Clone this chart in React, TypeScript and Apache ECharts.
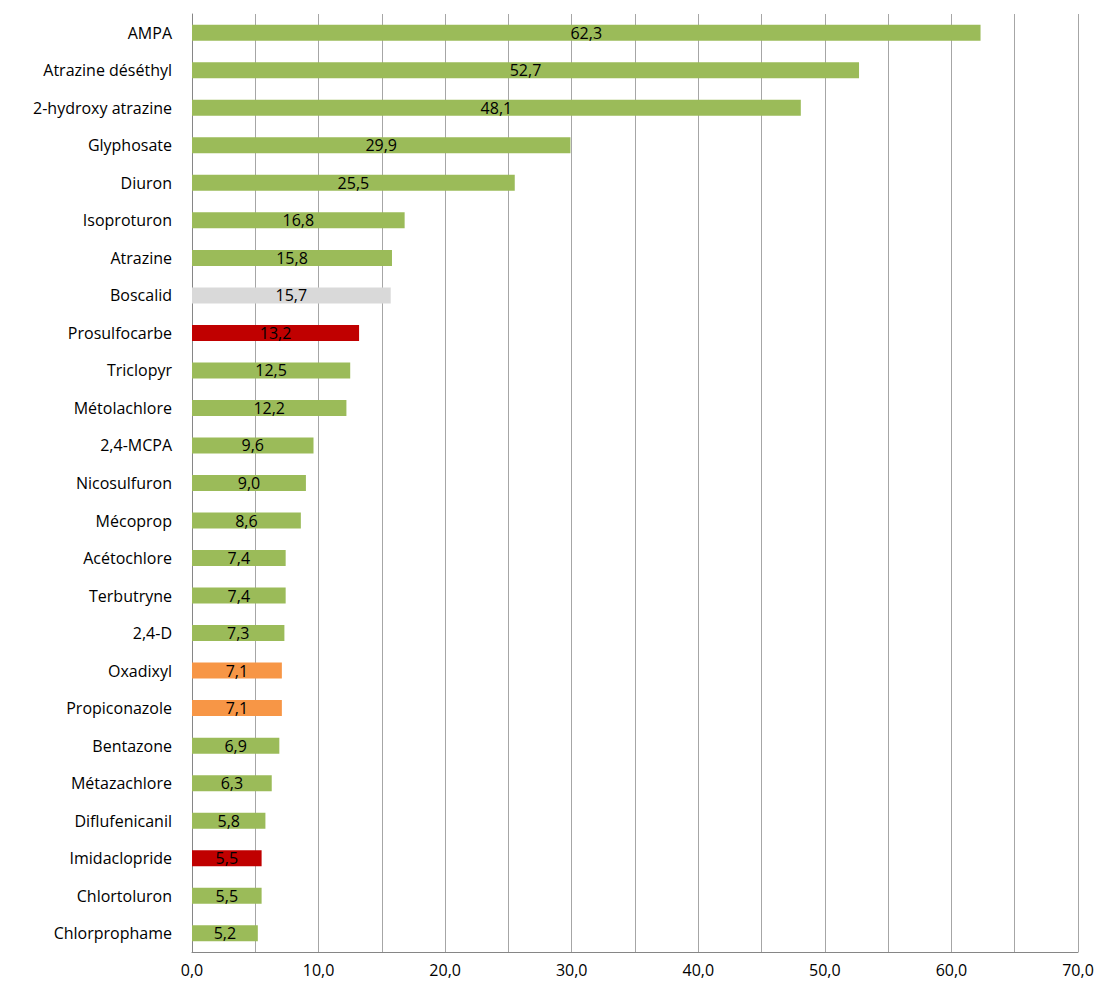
import React, { useEffect, useRef } from 'react';
import * as echarts from 'echarts';

const categories = [
  'AMPA', 'Atrazine déséthyl', '2-hydroxy atrazine', 'Glyphosate', 'Diuron', 'Isoproturon',
  'Atrazine', 'Boscalid', 'Prosulfocarbe', 'Triclopyr', 'Métolachlore', '2,4-MCPA',
  'Nicosulfuron', 'Mécoprop', 'Acétochlore', 'Terbutryne', '2,4-D', 'Oxadixyl',
  'Propiconazole', 'Bentazone', 'Métazachlore', 'Diflufenicanil', 'Imidaclopride',
  'Chlortoluron', 'Chlorprophame',
];
const values = [
  62.3, 52.7, 48.1, 29.9, 25.5, 16.8, 15.8, 15.7, 13.2, 12.5, 12.2, 9.6, 9.0, 8.6, 7.4,
  7.4, 7.3, 7.1, 7.1, 6.9, 6.3, 5.8, 5.5, 5.5, 5.2,
];
// g = green, s = grey, r = red, o = orange
const colorKeys = [
  'g', 'g', 'g', 'g', 'g', 'g', 'g', 's', 'r', 'g', 'g', 'g', 'g', 'g', 'g', 'g', 'g',
  'o', 'o', 'g', 'g', 'g', 'r', 'g', 'g',
];
const palette: Record<string, string> = {
  g: '#9BBB59', s: '#D9D9D9', r: '#C00000', o: '#F79646',
};

const fmt = (v: number) => v.toFixed(1).replace('.', ',');

const App: React.FC = () => {
  const chartRef = useRef<HTMLDivElement>(null);

  useEffect(() => {
    const chart = echarts.init(chartRef.current!, undefined, { renderer: 'svg' });
    const option = {
      animation: false,
      textStyle: { fontFamily: 'Open Sans' },
      grid: { left: 192, right: 22, top: 14, bottom: 37, containLabel: false },
      xAxis: {
        type: 'value',
        min: 0,
        max: 70,
        interval: 5,
        axisLine: { show: true, lineStyle: { color: '#868686' } },
        axisTick: { show: false },
        axisLabel: {
          fontSize: 16,
          color: '#000',
          margin: 10,
          formatter: (v: number) => (v % 10 === 0 ? fmt(v) : ''),
        },
        splitLine: { show: true, lineStyle: { color: '#A6A6A6', width: 1 } },
      },
      yAxis: {
        type: 'category',
        data: categories,
        inverse: true,
        axisLine: { show: true, lineStyle: { color: '#868686' } },
        axisTick: { show: false },
        axisLabel: { fontSize: 16, color: '#000', margin: 20 },
      },
      series: [
        {
          type: 'bar',
          barWidth: 16,
          data: values.map((v, i) => ({
            value: v,
            itemStyle: { color: palette[colorKeys[i]] },
          })),
          label: {
            show: true,
            position: 'inside',
            color: '#000',
            fontSize: 16,
            formatter: (p: any) => fmt(p.value),
          },
        },
      ],
    };
    chart.setOption(option);
    return () => {
      chart.dispose();
    };
  }, []);

  return (
    <div
      ref={chartRef}
      style={{ position: 'absolute', left: 0, top: 0, width: 1100, height: 989, background: '#fff' }}
    />
  );
};

export default App;
